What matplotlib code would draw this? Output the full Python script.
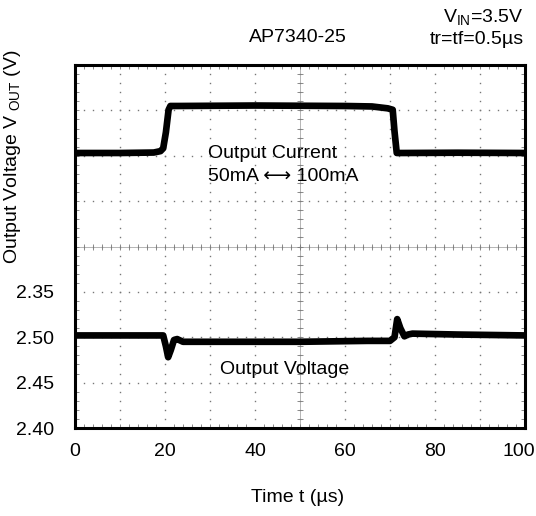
import numpy as np
import matplotlib
matplotlib.use('Agg')
import matplotlib.pyplot as plt
import matplotlib.transforms as mtransforms

plt.rcParams['font.family'] = ['Liberation Sans', 'DejaVu Sans']
plt.rcParams['mathtext.default'] = 'regular'

# Oscilloscope traces
# output current (mA), step 50mA <-> 100mA
t_cur = [0, 10, 17.5, 19.0, 19.6, 20.2, 20.8, 21.2, 23, 40, 60, 66, 69.5, 70.6, 71.0, 71.5, 73, 85, 100]
i_cur = [50, 50, 50.5, 52, 55, 72, 96, 100, 100, 100.5, 100, 99.5, 97.5, 96, 73, 50, 50, 50.3, 50]

# output voltage (V)
t_vout = [0, 10, 19.6, 20.2, 20.7, 21.3, 22.0, 22.7, 24, 30, 50, 65, 70, 71.0, 71.6, 72.3, 73.2, 74.0, 75, 85, 100]
v_out = [2.502, 2.502, 2.502, 2.490, 2.478, 2.486, 2.497, 2.498, 2.495, 2.495, 2.495, 2.496, 2.496, 2.500, 2.520, 2.510, 2.501, 2.503, 2.504, 2.503, 2.502]

x_ticks = [0, 20, 40, 60, 80, 100]
y_ticks = [2.40, 2.45, 2.50, 2.55]
y_labels = ['2.40', '2.45', '2.50', '2.35']

fig = plt.figure(figsize=(5.36, 5.16), dpi=100)
ax = fig.add_axes([75/536, 1-428/516, 450/536, 363/516])

xmin, xmax = 0, 100
ymin, ymax = 2.40, 2.80
ax.set_xlim(xmin, xmax)
ax.set_ylim(ymin, ymax)

# scope graticule: dots on every division, crosshair through centre
gc = '#777777'
xdiv = np.arange(xmin, xmax + 0.1, 10)
ydiv = np.linspace(ymin, ymax, 9)
xmin_pos = np.arange(xmin, xmax + 0.1, 2)
ymin_pos = np.linspace(ymin, ymax, 41)
for xd in xdiv[1:-1]:
    ax.plot([xd] * len(ymin_pos), ymin_pos, ls='none', marker='s', ms=1.0, mew=0, color=gc, zorder=1)
for yd in ydiv[1:-1]:
    ax.plot(xmin_pos, [yd] * len(xmin_pos), ls='none', marker='s', ms=1.0, mew=0, color=gc, zorder=1)
ax.axvline(50, color='#aaaaaa', lw=0.6, zorder=1)
ax.axhline(2.60, color='#aaaaaa', lw=0.6, zorder=1)
ax.plot(xmin_pos, [2.60] * len(xmin_pos), ls='none', marker='|', ms=4, mew=0.6, color=gc, zorder=1)
ax.plot([50] * len(ymin_pos), ymin_pos, ls='none', marker='_', ms=4, mew=0.6, color=gc, zorder=1)

# voltage trace
ax.plot(t_vout, v_out, color='black', lw=4.8, solid_joinstyle='round', zorder=3)

# current trace on its own hidden scale
ax2 = ax.twinx()
ax2.set_ylim(-242.5, 143.6)
ax2.plot(t_cur, i_cur, color='black', lw=4.8, solid_joinstyle='round', zorder=3)
ax2.set_yticks([])
for s in ax2.spines.values():
    s.set_visible(False)

ax.set_xticks(x_ticks)
ax.set_xticklabels([str(v) for v in x_ticks])
ax.set_yticks(y_ticks)
ax.set_yticklabels(y_labels)
ax.set_xticks(xmin_pos, minor=True)
ax.set_yticks(ymin_pos, minor=True)
ax.tick_params(which='major', length=0, labelsize=14, pad=11)
ax.tick_params(axis='y', which='major', pad=15)
ax.tick_params(which='minor', direction='in', length=3, width=0.6, color=gc,
               top=True, right=True, bottom=True, left=True)
for s in ax.spines.values():
    s.set_linewidth(2.2)

# keep the last x label inside the figure
last = ax.get_xticklabels()[-1]
last.set_transform(last.get_transform() + mtransforms.ScaledTranslation(-6/100, 0, fig.dpi_scale_trans))

fs = 14
fig.text(298/536, 1-37/516, 'AP7340-25', ha='center', va='center', fontsize=fs)
fig.text(524/536, 1-17/516, 'V$_{IN}$=3.5V', ha='right', va='center', fontsize=fs)
fig.text(524/536, 1-40/516, 'tr=tf=0.5µs', ha='right', va='center', fontsize=fs)
fig.text(298/536, 1-497/516, 'Time t (µs)', ha='center', va='center', fontsize=fs)
fig.text(13/536, 1-157/516, r'Output Voltage V$_{\ OUT}$ (V)', rotation=90,
         ha='center', va='center', fontsize=fs)

ax.text(29.6, 2.703, 'Output Current', ha='left', va='center', fontsize=fs, zorder=4)
ax.text(29.6, 2.677, '50mA ⟷ 100mA', ha='left', va='center', fontsize=fs, zorder=4)
fig.text(285/536, 1-369/516, 'Output Voltage', ha='center', va='center', fontsize=fs)

fig.savefig('out.png', dpi=100)
